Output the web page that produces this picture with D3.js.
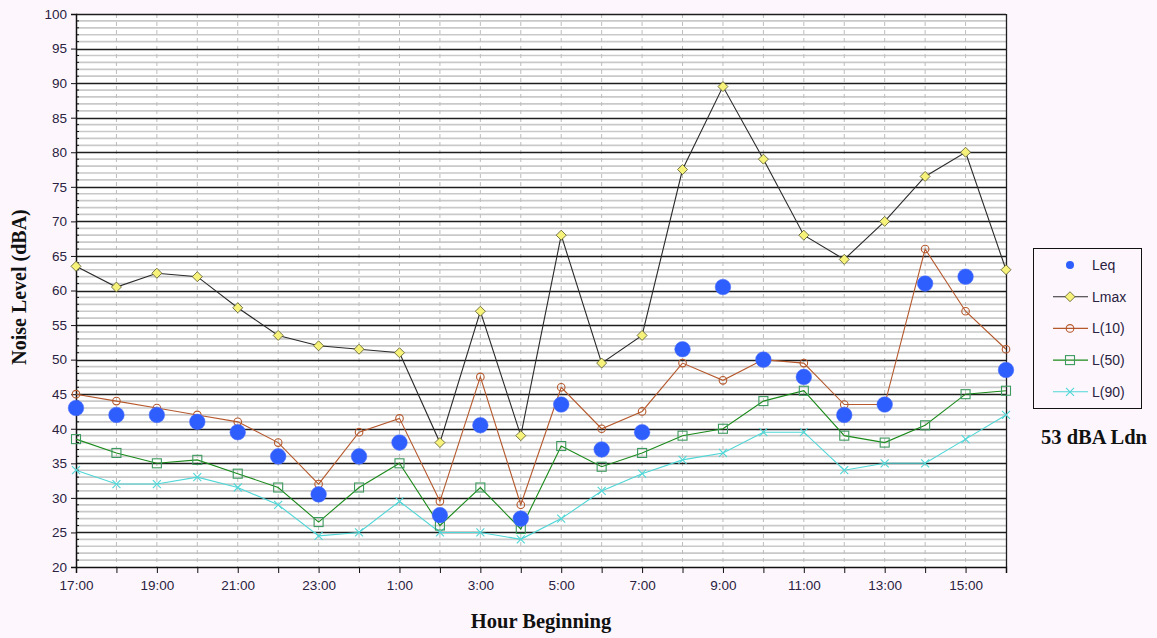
<!DOCTYPE html>
<html>
<head>
<meta charset="utf-8">
<script src="https://cdn.jsdelivr.net/npm/d3@7"></script>
<style>
  html, body { margin: 0; padding: 0; background: #fdf7fd; }
  svg { display: block; }
</style>
</head>
<body>
<svg id="chart" width="1157" height="638"></svg>
<script>
// Hourly noise measurements, one value per hour beginning
const hours = ["17:00","18:00","19:00","20:00","21:00","22:00","23:00","0:00","1:00","2:00","3:00","4:00",
               "5:00","6:00","7:00","8:00","9:00","10:00","11:00","12:00","13:00","14:00","15:00","16:00"];
const leq  = [43, 42, 42, 41, 39.5, 36, 30.5, 36, 38, 27.5, 40.5, 27, 43.5, 37, 39.5, 51.5, 60.5, 50, 47.5, 42, 43.5, 61, 62, 48.5];
const lmax = [63.5, 60.5, 62.5, 62, 57.5, 53.5, 52, 51.5, 51, 38, 57, 39, 68, 49.5, 53.5, 77.5, 89.5, 79, 68, 64.5, 70, 76.5, 80, 63];
const l10  = [45, 44, 43, 42, 41, 38, 32, 39.5, 41.5, 29.5, 47.5, 29, 46, 40, 42.5, 49.5, 47, 50, 49.5, 43.5, 43.5, 66, 57, 51.5];
const l50  = [38.5, 36.5, 35, 35.5, 33.5, 31.5, 26.5, 31.5, 35, 26, 31.5, 25.5, 37.5, 34.5, 36.5, 39, 40, 44, 45.5, 39, 38, 40.5, 45, 45.5];
const l90  = [34, 32, 32, 33, 31.5, 29, 24.5, 25, 29.5, 25, 25, 24, 27, 31, 33.5, 35.5, 36.5, 39.5, 39.5, 34, 35, 35, 38.5, 42];
const yTicks = [20, 25, 30, 35, 40, 45, 50, 55, 60, 65, 70, 75, 80, 85, 90, 95, 100];
const xLabels = ["17:00","19:00","21:00","23:00","1:00","3:00","5:00","7:00","9:00","11:00","13:00","15:00"];
const ldnText = "53 dBA Ldn";

const svg = d3.select("#chart");
const plotLeft = 76, plotRight = 1006, plotTop = 14, plotBottom = 567;
const sans = "Liberation Sans, Arial, sans-serif";
const serif = "Liberation Serif, Times New Roman, serif";

const x = d3.scalePoint().domain(hours).range([plotLeft, plotRight]).padding(0);
const y = d3.scaleLinear().domain([20, 100]).range([plotBottom, plotTop]);

// plot background
svg.append("rect").attr("x", plotLeft).attr("y", plotTop)
  .attr("width", plotRight - plotLeft).attr("height", plotBottom - plotTop)
  .attr("fill", "#ffffff");

// minor horizontal grid (every 1 dBA)
const minor = d3.range(21, 100).filter(v => v % 5 !== 0);
svg.append("g").selectAll("line").data(minor).join("line")
  .attr("x1", plotLeft).attr("x2", plotRight)
  .attr("y1", d => y(d)).attr("y2", d => y(d))
  .attr("stroke", "#c9c9c9").attr("stroke-width", 1.7);

// vertical dashed grid at each hour
svg.append("g").selectAll("line").data(hours.slice(1, -1)).join("line")
  .attr("x1", d => x(d)).attr("x2", d => x(d))
  .attr("y1", plotTop).attr("y2", plotBottom)
  .attr("stroke", "#bdbdbd").attr("stroke-width", 1).attr("stroke-dasharray", "4,4");

// major horizontal grid (every 5 dBA)
svg.append("g").selectAll("line").data(yTicks.slice(1)).join("line")
  .attr("x1", plotLeft).attr("x2", plotRight)
  .attr("y1", d => Math.round(y(d)) + 0.5).attr("y2", d => Math.round(y(d)) + 0.5)
  .attr("stroke", "#1e1e1e").attr("stroke-width", 1.3);

// right frame
svg.append("line").attr("x1", plotRight + 0.5).attr("x2", plotRight + 0.5)
  .attr("y1", plotTop).attr("y2", plotBottom)
  .attr("stroke", "#1e1e1e").attr("stroke-width", 1.3);

// Y axis
const yAxis = d3.axisLeft(y).tickValues(yTicks).tickSize(5).tickPadding(4);
const gy = svg.append("g").attr("transform", `translate(${plotLeft},0)`).call(yAxis);
gy.select(".domain").attr("stroke", "#111").attr("stroke-width", 1.5);
gy.selectAll(".tick line").attr("stroke", "#111");
gy.selectAll("text").attr("font-family", sans).attr("font-size", 13.5).attr("fill", "#2a2240");
// inner minor ticks
svg.append("g").selectAll("line").data(minor).join("line")
  .attr("x1", plotLeft).attr("x2", plotLeft + 3)
  .attr("y1", d => y(d)).attr("y2", d => y(d))
  .attr("stroke", "#111").attr("stroke-width", 1);

// X axis
const xAxis = d3.axisBottom(x).tickSize(6).tickPadding(7)
  .tickFormat(d => xLabels.includes(d) ? d : "");
const gx = svg.append("g").attr("transform", `translate(0,${plotBottom})`).call(xAxis);
gx.select(".domain").attr("stroke", "#111").attr("stroke-width", 1.5);
gx.selectAll(".tick line").attr("stroke", "#111");
gx.selectAll("text").attr("font-family", sans).attr("font-size", 13.5).attr("fill", "#2a2240");

// series lines
const line = d3.line().x((d, i) => x(hours[i])).y(d => y(d));
const series = [
  { name: "L(90)",  data: l90,  color: "#4fd6d6", marker: "x" },
  { name: "L(50)",  data: l50,  color: "#1a8a1a", marker: "square", mcolor: "#3d9a5e" },
  { name: "L(10)",  data: l10,  color: "#b5582c", marker: "circle" },
  { name: "Lmax",   data: lmax, color: "#2a2a2a", marker: "diamond" }
];

function drawMarker(g, type, cx, cy, s) {
  if (type === "diamond") {
    g.append("path").attr("d", `M${cx},${cy - 5}L${cx + 5},${cy}L${cx},${cy + 5}L${cx - 5},${cy}Z`)
      .attr("fill", "#f6f27a").attr("stroke", "#55552a").attr("stroke-width", 0.8);
  } else if (type === "circle") {
    g.append("circle").attr("cx", cx).attr("cy", cy).attr("r", 3.8)
      .attr("fill", "none").attr("stroke", s.color).attr("stroke-width", 1.1);
  } else if (type === "square") {
    g.append("rect").attr("x", cx - 4.5).attr("y", cy - 4.5).attr("width", 9).attr("height", 9)
      .attr("fill", "none").attr("stroke", s.mcolor || s.color).attr("stroke-width", 1.1);
  } else if (type === "x") {
    g.append("path").attr("d", `M${cx - 4},${cy - 4}L${cx + 4},${cy + 4}M${cx - 4},${cy + 4}L${cx + 4},${cy - 4}`)
      .attr("stroke", s.color).attr("stroke-width", 1.1);
  }
}

series.forEach(s => {
  svg.append("path").datum(s.data).attr("d", line)
    .attr("fill", "none").attr("stroke", s.color).attr("stroke-width", 1.1);
  const g = svg.append("g");
  s.data.forEach((v, i) => drawMarker(g, s.marker, x(hours[i]), y(v), s));
});

// Leq points
svg.append("g").selectAll("circle").data(leq).join("circle")
  .attr("cx", (d, i) => x(hours[i])).attr("cy", d => y(d)).attr("r", 7.8)
  .attr("fill", "#2f5eff").attr("stroke", "#4a6cff").attr("stroke-width", 0.5);

// Axis titles
svg.append("text").attr("transform", "translate(26,287) rotate(-90)")
  .attr("text-anchor", "middle").attr("font-family", serif)
  .attr("font-weight", "bold").attr("font-size", 20).attr("fill", "#111").text("Noise Level (dBA)");
svg.append("text").attr("x", 541).attr("y", 628)
  .attr("text-anchor", "middle").attr("font-family", serif)
  .attr("font-weight", "bold").attr("font-size", 20.5).attr("fill", "#111").text("Hour Beginning");
svg.append("text").attr("x", 1094).attr("y", 444)
  .attr("text-anchor", "middle").attr("font-family", serif)
  .attr("font-weight", "bold").attr("font-size", 20.5).attr("fill", "#111").text(ldnText);

// Legend
const lg = svg.append("g");
lg.append("rect").attr("x", 1033.5).attr("y", 248.5).attr("width", 108).attr("height", 160)
  .attr("fill", "#fdf7fd").attr("stroke", "#111").attr("stroke-width", 1);
const legendItems = [
  { name: "Leq", marker: "dot" },
  { name: "Lmax", marker: "diamond", color: "#2a2a2a" },
  { name: "L(10)", marker: "circle", color: "#b5582c" },
  { name: "L(50)", marker: "square", color: "#1a8a1a", mcolor: "#3d9a5e" },
  { name: "L(90)", marker: "x", color: "#4fd6d6" }
];
legendItems.forEach((it, i) => {
  const cy = 265 + i * 31.7;
  if (it.marker === "dot") {
    lg.append("circle").attr("cx", 1070).attr("cy", cy).attr("r", 4).attr("fill", "#2f5eff");
  } else {
    lg.append("line").attr("x1", 1053).attr("x2", 1088).attr("y1", cy).attr("y2", cy)
      .attr("stroke", it.color).attr("stroke-width", 1.1);
    drawMarker(lg, it.marker, 1070, cy, it);
  }
  lg.append("text").attr("x", 1092).attr("y", cy + 5)
    .attr("font-family", sans).attr("font-size", 14).attr("fill", "#2a2240")
    .text(it.name);
});
</script>
</body>
</html>
